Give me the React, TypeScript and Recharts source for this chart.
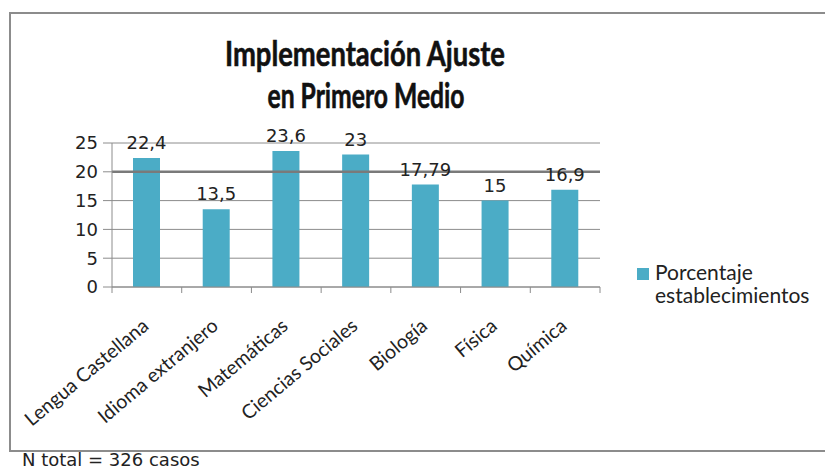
import React from 'react';
import { BarChart, Bar, XAxis, YAxis, CartesianGrid, LabelList, ReferenceLine } from 'recharts';

const asignaturas = [
    'Lengua Castellana',
    'Idioma extranjero',
    'Matemáticas',
    'Ciencias Sociales',
    'Biología',
    'Física',
    'Química'
];
const porcentajes = [22.4, 13.5, 23.6, 23, 17.79, 15, 16.9];
const yTicks = [0, 5, 10, 15, 20, 25];

const data = asignaturas.map((asignatura, i) => ({ asignatura, porcentaje: porcentajes[i] }));

const BAR_COLOR = '#4bacc6';
const GRID = '#8c8c8c';
const PLOT_W = 488; // 825 - left 112 - right 225

// category label rotated, plus tick marks on the category boundaries
const CategoryTick = (props: any) => {
    const { x, y, payload, index } = props;
    const band = PLOT_W / asignaturas.length;
    const last = index === asignaturas.length - 1;
    return (
        <g>
            <line x1={x - band / 2} y1={y} x2={x - band / 2} y2={y + 6} stroke={GRID} />
            {last && <line x1={x + band / 2} y1={y} x2={x + band / 2} y2={y + 6} stroke={GRID} />}
            <text
                transform={`translate(${x + 3},${y + 41}) rotate(-40)`}
                textAnchor="end"
                fontFamily="Lato"
                fontSize={19.5}
                fill="#222"
            >
                {payload.value}
            </text>
        </g>
    );
};

const formatComa = (v: any) => String(v).replace('.', ',');

export default function App() {
    return (
        <div style={{ position: 'absolute', left: 0, top: 0, width: 825, height: 473, overflow: 'hidden', background: '#fff' }}>
            {/* chart frame, open on the right side */}
            <div style={{ position: 'absolute', left: 9, top: 12, width: 840, height: 436, border: `2px solid ${GRID}` }} />

            <BarChart
                width={825}
                height={473}
                data={data}
                margin={{ top: 143, right: 225, left: 72, bottom: 36 }}
                style={{ position: 'absolute', left: 0, top: 0 }}
            >
                <CartesianGrid vertical={false} stroke={GRID} />
                <ReferenceLine y={20} stroke="#7a7a7a" strokeWidth={2.5} />
                <XAxis
                    dataKey="asignatura"
                    height={150}
                    interval={0}
                    tickLine={false}
                    tickSize={0}
                    tickMargin={0}
                    axisLine={{ stroke: GRID }}
                    tick={<CategoryTick />}
                />
                <YAxis
                    width={40}
                    domain={[0, 25]}
                    ticks={yTicks}
                    interval={0}
                    tickSize={9}
                    tickMargin={5}
                    axisLine={{ stroke: GRID }}
                    tickLine={{ stroke: GRID }}
                    tick={{ fill: '#222', fontSize: 18, fontFamily: 'DejaVu Sans' }}
                />
                <Bar dataKey="porcentaje" fill={BAR_COLOR} barSize={27} isAnimationActive={false}>
                    <LabelList
                        dataKey="porcentaje"
                        position="top"
                        offset={9}
                        formatter={formatComa}
                        style={{ fill: '#222', fontSize: 18, fontFamily: 'DejaVu Sans' }}
                    />
                </Bar>
            </BarChart>

            {/* title */}
            <svg width={825} height={130} style={{ position: 'absolute', left: 0, top: 0 }}>
                <text x={365} y={66} textAnchor="middle" fontFamily="Lato" fontWeight="bold" fontSize={35}
                    textLength={280} lengthAdjust="spacingAndGlyphs" fill="#111" stroke="#111" strokeWidth={0.6}>
                    Implementación Ajuste
                </text>
                <text x={366} y={108} textAnchor="middle" fontFamily="Lato" fontWeight="bold" fontSize={35}
                    textLength={197} lengthAdjust="spacingAndGlyphs" fill="#111" stroke="#111" strokeWidth={0.6}>
                    en Primero Medio
                </text>
            </svg>

            {/* legend */}
            <div style={{ position: 'absolute', left: 637, top: 268, width: 12, height: 12, background: BAR_COLOR }} />
            <div style={{ position: 'absolute', left: 655, top: 260, fontFamily: 'Lato', fontSize: 21, lineHeight: '23px', color: '#222' }}>
                Porcentaje
                <br />
                establecimientos
            </div>

            {/* footnote */}
            <div style={{ position: 'absolute', left: 22, top: 449, fontFamily: 'DejaVu Sans', fontSize: 18, color: '#222' }}>
                N total = 326 casos
            </div>
        </div>
    );
}
